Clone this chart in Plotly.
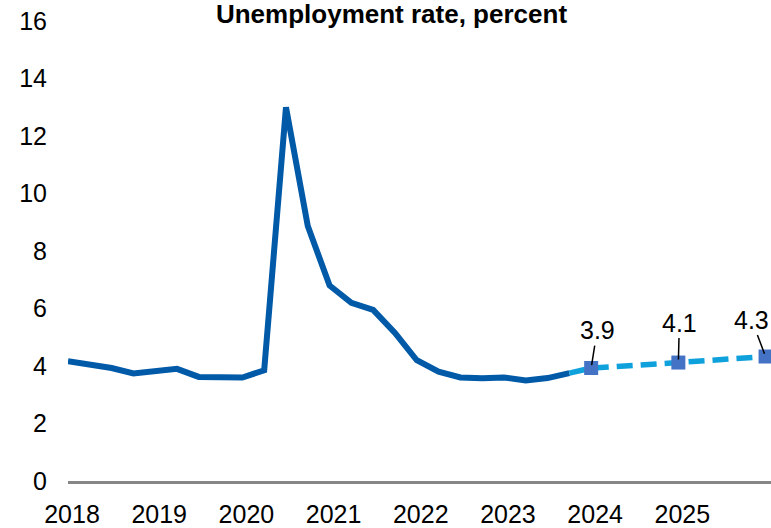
import plotly.graph_objects as go

# Data (quarterly)
years = ["2018", "2019", "2020", "2021", "2022", "2023", "2024", "2025"]
actual = [4.17, 4.06, 3.93, 3.74, 3.82, 3.9, 3.62, 3.6, 3.6, 3.85,
          13.0, 8.87, 6.8, 6.2, 5.95, 5.15, 4.2, 3.8, 3.6, 3.57,
          3.6, 3.5, 3.58, 3.75]
proj_q = [23, 24, 28, 32]            # quarter index of projection points
proj_vals = [3.75, 3.93, 4.12, 4.33]
label_q = [24, 28, 32]
label_vals = [3.93, 4.12, 4.33]
label_text = ["3.9", "4.1", "4.3"]
title = "Unemployment rate, percent"

FONT = "Arial, Liberation Sans, sans-serif"

fig = go.Figure()
fig.add_trace(go.Scatter(
    x=list(range(len(actual))), y=actual, mode="lines",
    line=dict(color="#005AA8", width=6), showlegend=False, hoverinfo="skip"))
fig.add_trace(go.Scatter(
    x=proj_q, y=proj_vals, mode="lines",
    line=dict(color="#0FA1DC", width=5.5, dash="16px,8px"),
    showlegend=False, hoverinfo="skip"))
fig.add_trace(go.Scatter(
    x=label_q, y=label_vals, mode="markers",
    marker=dict(symbol="square", size=14, color="#4472C4"),
    showlegend=False, hoverinfo="skip"))

offsets = [(6, -38), (1, -40), (-14, -37)]
for q, v, t, (ax, ay) in zip(label_q, label_vals, label_text, offsets):
    fig.add_annotation(x=q, y=v, text=t, showarrow=True, arrowhead=0,
                       arrowwidth=1.5, arrowcolor="#000000", ax=ax, ay=ay,
                       standoff=3, font=dict(family=FONT, size=25, color="#000000"))

fig.update_layout(
    width=771, height=528,
    margin=dict(l=68, r=0, t=21, b=41),
    paper_bgcolor="white", plot_bgcolor="white",
    font=dict(family=FONT, size=25, color="#000000"),
    title=dict(text="<b>" + title + "</b>", xref="container", x=391.5 / 771,
               xanchor="center", y=1 - 14.0 / 528, yanchor="middle",
               font=dict(family=FONT, size=26, color="#000000")),
)
fig.update_xaxes(
    range=[0, 32.25], tickmode="array",
    tickvals=[4 * i for i in range(len(years))], ticktext=years,
    showgrid=False, zeroline=False, showline=True, linecolor="#868686",
    linewidth=3, ticks="", ticklabelshift=4, ticklabelstandoff=9,
    tickfont=dict(family=FONT, size=25, color="#000000"))
fig.update_yaxes(
    range=[0, 16], dtick=2, tick0=0, showgrid=False, zeroline=False,
    showline=False, ticks="", ticklabelstandoff=20,
    tickfont=dict(family=FONT, size=25, color="#000000"))

fig.write_html(
    "out.html",
    config={"displayModeBar": False},
    post_script="document.body.style.margin='0';document.body.style.overflow='hidden';")
